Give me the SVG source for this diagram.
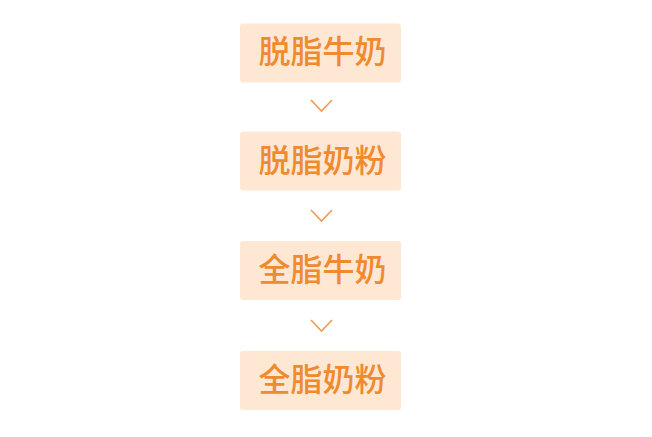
<svg xmlns="http://www.w3.org/2000/svg" width="652" height="437" viewBox="0 0 652 437">
<style>
.box{fill:#fee8d4}
.lbl{font-family:"Noto Sans CJK SC","Liberation Sans",sans-serif;font-size:32px;font-weight:500;fill:#f08a2e;text-anchor:middle}
.chev{fill:none;stroke:#f09a55;stroke-width:1.6}
</style>
<rect width="652" height="437" fill="#ffffff"/>
<g id="n1"><rect class="box" x="240" y="23.5" width="161" height="59" rx="3"/><text class="lbl" x="322.5" y="63">脱脂牛奶</text></g>
<g id="n2"><rect class="box" x="240" y="131.5" width="161" height="59" rx="3"/><text class="lbl" x="322.5" y="172">脱脂奶粉</text></g>
<g id="n3"><rect class="box" x="240" y="241" width="161" height="59" rx="3"/><text class="lbl" x="322.5" y="281">全脂牛奶</text></g>
<g id="n4"><rect class="box" x="240" y="351" width="161" height="59" rx="3"/><text class="lbl" x="322.5" y="391">全脂奶粉</text></g>
<g id="connectors">
<path class="chev" d="M311 100 L321.5 111 L332 100"/>
<path class="chev" d="M311 210 L321.5 221 L332 210"/>
<path class="chev" d="M311 320 L321.5 331 L332 320"/>
</g>
</svg>
